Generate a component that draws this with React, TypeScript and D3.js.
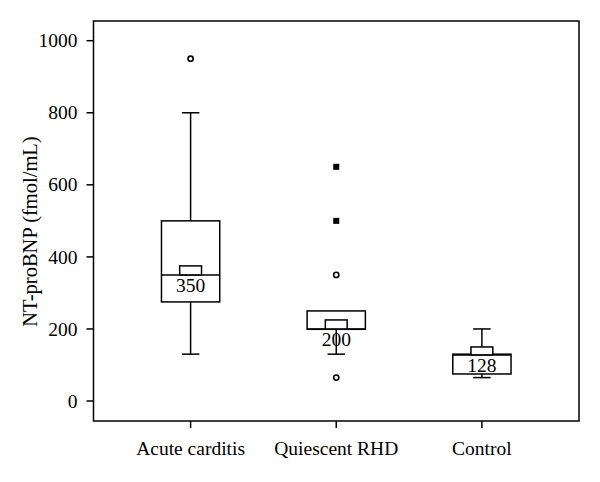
import React from "react";
import * as d3 from "d3";

const categories = ["Acute carditis", "Quiescent RHD", "Control"];
const q1 = [275, 199, 75];
const q3 = [500, 250, 130];
const medians = [350, 200, 128];
const whiskerLow = [130, 130, 65];
const whiskerHigh = [800, 250, 200];
const medianUpper = [375, 225, 150];
const medianLabels = ["350", "200", "128"];
const circleOutliers = [
  { cat: 0, v: 950 },
  { cat: 1, v: 350 },
  { cat: 1, v: 65 },
];
const squareOutliers = [
  { cat: 1, v: 650 },
  { cat: 1, v: 500 },
];
const yTicks = [0, 200, 400, 600, 800, 1000];
const yLabel = "NT-proBNP (fmol/mL)";

const W = 600;
const H = 482;
const left = 93.5;
const right = 579;
const top = 21;
const bottom = 421;
const FONT = "'Liberation Serif', 'Times New Roman', serif";

export default function App() {
  const x = d3.scalePoint<string>().domain(categories).range([left, right]).padding(2 / 3);
  const y = d3.scaleLinear().domain([-55.5, 1054.7]).range([bottom, top]);
  const step = x.step();
  const boxW = step * 0.4;
  const ciW = step * 0.15;
  const capW = step * 0.12;
  const sw = 1.5;

  return (
    <div style={{ position: "absolute", left: 0, top: 0 }}>
      <svg width={W} height={H} style={{ display: "block", background: "#fff" }}>
        <rect x={left} y={top} width={right - left} height={bottom - top} fill="none" stroke="#000" strokeWidth={sw} />
        {yTicks.map((t) => (
          <g key={t}>
            <line x1={left - 7} x2={left} y1={y(t)} y2={y(t)} stroke="#000" strokeWidth={sw} />
            <text x={left - 16} y={y(t)} dy="0.34em" textAnchor="end" fontFamily={FONT} fontSize={19.5} fill="#000">
              {t}
            </text>
          </g>
        ))}
        {categories.map((c) => (
          <g key={c}>
            <line x1={x(c)!} x2={x(c)!} y1={bottom} y2={bottom + 7} stroke="#000" strokeWidth={sw} />
            <text x={x(c)!} y={455} textAnchor="middle" fontFamily={FONT} fontSize={19.5} fill="#000">
              {c}
            </text>
          </g>
        ))}
        <text
          transform={`translate(37,231.5) rotate(-90)`}
          textAnchor="middle"
          fontFamily={FONT}
          fontSize={20.5}
          fill="#000"
        >
          {yLabel}
        </text>
        {categories.map((c, i) => {
          const cx = x(c)!;
          return (
            <g key={c} stroke="#000" strokeWidth={sw} fill="none">
              {whiskerHigh[i] > q3[i] && (
                <>
                  <line x1={cx} x2={cx} y1={y(q3[i])} y2={y(whiskerHigh[i])} />
                  <line x1={cx - capW / 2} x2={cx + capW / 2} y1={y(whiskerHigh[i])} y2={y(whiskerHigh[i])} />
                </>
              )}
              {whiskerLow[i] < q1[i] && (
                <>
                  <line x1={cx} x2={cx} y1={y(q1[i])} y2={y(whiskerLow[i])} />
                  <line x1={cx - capW / 2} x2={cx + capW / 2} y1={y(whiskerLow[i])} y2={y(whiskerLow[i])} />
                </>
              )}
              <rect x={cx - boxW / 2} y={y(q3[i])} width={boxW} height={y(q1[i]) - y(q3[i])} fill="#fff" />
              <line x1={cx - boxW / 2} x2={cx + boxW / 2} y1={y(medians[i])} y2={y(medians[i])} />
              <rect
                x={cx - ciW / 2}
                y={y(medianUpper[i])}
                width={ciW}
                height={y(medians[i]) - y(medianUpper[i])}
                fill="#fff"
              />
              <text
                x={cx}
                y={y(medians[i]) + 17.5}
                textAnchor="middle"
                fontFamily={FONT}
                fontSize={19.5}
                fill="#000"
                stroke="none"
              >
                {medianLabels[i]}
              </text>
            </g>
          );
        })}
        {circleOutliers.map((o, k) => (
          <circle key={k} cx={x(categories[o.cat])!} cy={y(o.v)} r={2.6} fill="#fff" stroke="#000" strokeWidth={1.6} />
        ))}
        {squareOutliers.map((o, k) => (
          <rect key={k} x={x(categories[o.cat])! - 3} y={y(o.v) - 3} width={6} height={6} fill="#000" />
        ))}
      </svg>
    </div>
  );
}
